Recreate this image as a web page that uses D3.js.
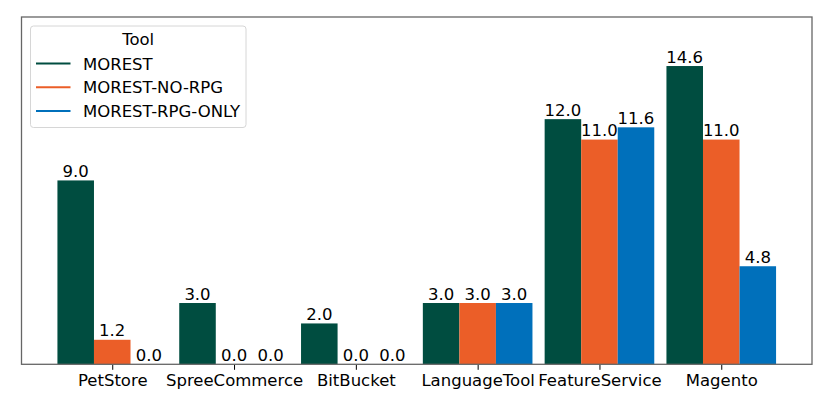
<!DOCTYPE html>
<html>
<head>
<meta charset="utf-8">
<script src="https://cdn.jsdelivr.net/npm/d3@7"></script>
<style>
  body { margin: 0; background: #fff; }
  svg { display: block; font-family: "DejaVu Sans", sans-serif; }
</style>
</head>
<body>
<svg id="chart" width="830" height="407"></svg>
<script>
const categories = ['PetStore', 'SpreeCommerce', 'BitBucket', 'LanguageTool', 'FeatureService', 'Magento'];
const tools = ['MOREST', 'MOREST-NO-RPG', 'MOREST-RPG-ONLY'];
const morest = [9.0, 3.0, 2.0, 3.0, 12.0, 14.6];
const morestNoRpg = [1.2, 0.0, 0.0, 3.0, 11.0, 11.0];
const morestRpgOnly = [0.0, 0.0, 0.0, 3.0, 11.6, 4.8];
const colours = ['#004d40', '#eb5e28', '#0070bb'];

const series = [morest, morestNoRpg, morestRpgOnly];
const fs = 16.5;
const margin = {left: 21.5, right: 812, top: 17, bottom: 364.3};
const svg = d3.select('#chart');

// numeric x like matplotlib: category i at i, bars width 0.3
const barW = 0.3;
const x = d3.scaleLinear().domain([-0.745, 5.745]).range([margin.left, margin.right]);
const y = d3.scaleLinear().domain([0, 17]).range([margin.bottom, margin.top]);

series.forEach((vals, s) => {
  const off = (s - 1) * barW;
  const g = svg.append('g');
  g.selectAll('rect').data(vals).enter().append('rect')
    .attr('x', (d, i) => x(i + off - barW / 2))
    .attr('y', d => y(d))
    .attr('width', x(barW) - x(0))
    .attr('height', d => y(0) - y(d))
    .attr('fill', colours[s]);
  g.selectAll('text').data(vals).enter().append('text')
    .attr('x', (d, i) => x(i + off))
    .attr('y', d => y(d) - 3.5)
    .attr('text-anchor', 'middle')
    .attr('font-size', fs)
    .attr('fill', '#000')
    .text(d => d.toFixed(1));
});

// x axis
const xAxis = d3.axisBottom(x)
  .tickValues(d3.range(categories.length))
  .tickFormat(i => categories[i])
  .tickSize(5.5)
  .tickPadding(4);
const ax = svg.append('g').attr('transform', `translate(0,${margin.bottom})`).call(xAxis);
ax.select('.domain').remove();
ax.selectAll('line').attr('stroke', '#000').attr('stroke-width', 1);
ax.selectAll('text').attr('font-size', fs).attr('fill', '#000')
  .attr('font-family', '"DejaVu Sans", sans-serif');

// frame
svg.append('rect')
  .attr('x', margin.left).attr('y', margin.top)
  .attr('width', margin.right - margin.left)
  .attr('height', margin.bottom - margin.top)
  .attr('fill', 'none').attr('stroke', '#666').attr('stroke-width', 1.3);

// legend
const lg = svg.append('g').attr('transform', 'translate(30.5,26)');
lg.append('rect')
  .attr('width', 215.5).attr('height', 101.5).attr('rx', 3)
  .attr('fill', '#fff').attr('fill-opacity', 0.8)
  .attr('stroke', '#d6d6d6').attr('stroke-width', 1);
lg.append('text').attr('x', 107.7).attr('y', 19)
  .attr('text-anchor', 'middle').attr('font-size', fs).text('Tool');
tools.forEach((t, i) => {
  const cy = 37.5 + i * 23.8;
  lg.append('line').attr('x1', 5.5).attr('x2', 40).attr('y1', cy).attr('y2', cy)
    .attr('stroke', colours[i]).attr('stroke-width', 2);
  lg.append('text').attr('x', 52.5).attr('y', cy + 6).attr('font-size', fs).text(t);
});
</script>
</body>
</html>
